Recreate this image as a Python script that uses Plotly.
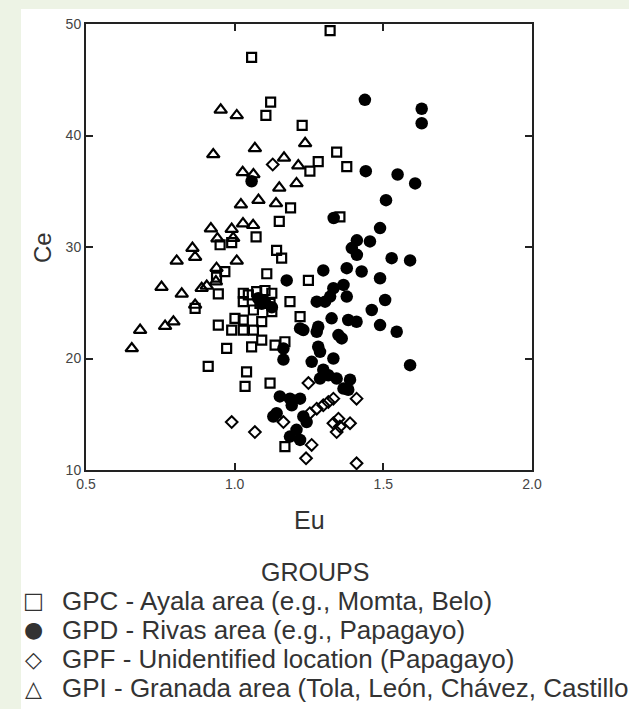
import plotly.graph_objects as go

# GPC - squares
gpc_eu = [1.057, 1.121, 1.105, 1.227, 1.343, 1.281, 1.253, 1.377, 1.321, 1.354,
          1.188, 1.150, 1.072, 0.951, 1.141, 1.158, 0.967, 0.939, 1.108, 1.248,
          0.945, 1.029, 1.046, 1.074, 1.102, 1.125, 1.029, 1.085, 1.119, 1.063,
          1.125, 1.001, 1.029, 1.091, 1.186, 1.220, 1.029, 1.063, 0.990, 0.945,
          1.091, 1.136, 1.169, 1.057, 0.973, 0.911, 1.040, 1.035, 1.119, 1.169,
          0.867, 0.990]
gpc_ce = [47.0, 43.0, 41.8, 40.9, 38.5, 37.65, 36.8, 37.2, 49.4, 32.7,
          33.5, 32.3, 30.9, 30.2, 29.7, 29.0, 27.8, 27.3, 27.6, 27.0,
          25.8, 25.85, 25.7, 26.0, 26.1, 25.85, 25.1, 24.95, 24.95, 24.35,
          24.2, 23.6, 23.45, 23.3, 25.1, 23.75, 22.55, 22.55, 22.55, 23.0,
          21.65, 21.2, 21.5, 21.05, 20.9, 19.3, 18.8, 17.5, 17.8, 12.1,
          24.5, 30.4]

# GPD - filled circles
gpd_eu = [1.438, 1.629, 1.629, 1.441, 1.548, 1.607, 1.057, 1.509, 1.333, 1.489,
          1.411, 1.455, 1.394, 1.411, 1.528, 1.590, 1.298, 1.377, 1.427, 1.489,
          1.175, 1.332, 1.366, 1.377, 1.276, 1.304, 1.321, 1.506, 1.461, 1.326,
          1.382, 1.410, 1.489, 1.545, 1.231, 1.281, 1.349, 1.360, 1.281, 1.332,
          1.259, 1.298, 1.315, 1.343, 1.388, 1.366, 1.382, 1.287, 1.590, 1.164,
          1.164, 1.220, 1.079, 1.091, 1.152, 1.186, 1.220, 1.192, 1.141, 1.130,
          1.231, 1.242, 1.208, 1.220, 1.186, 1.287, 1.276, 1.102, 1.125]
gpd_ce = [43.2, 42.4, 41.1, 36.8, 36.5, 35.7, 35.9, 34.2, 32.6, 31.7,
          30.6, 30.5, 29.9, 29.3, 29.0, 28.8, 27.9, 28.1, 27.8, 27.2,
          27.0, 26.3, 26.6, 25.55, 25.1, 25.1, 25.55, 25.25, 24.35, 23.6,
          23.45, 23.3, 23.0, 22.4, 22.55, 22.85, 22.1, 21.8, 21.05, 20.0,
          19.7, 19.0, 18.5, 18.2, 18.1, 17.3, 17.2, 18.2, 19.4, 20.9,
          19.9, 22.7, 25.4, 24.9, 16.6, 16.4, 16.4, 15.8, 15.1, 14.8,
          14.8, 14.3, 13.6, 12.7, 13.0, 20.6, 22.4, 25.1, 24.6]

# GPF - open diamonds
gpf_eu = [1.128, 0.990, 1.068, 1.240, 1.248, 1.164, 1.253, 1.276, 1.298, 1.315,
          1.332, 1.349, 1.332, 1.354, 1.343, 1.388, 1.259, 1.410, 1.410]
gpf_ce = [37.4, 14.3, 13.4, 11.05, 17.8, 14.3, 15.1, 15.5, 15.8, 16.1,
          16.4, 14.6, 14.2, 13.9, 13.4, 14.2, 12.25, 10.6, 16.4]

# GPI - open triangles
gpi_eu = [0.953, 1.007, 1.237, 0.928, 1.068, 1.166, 1.214, 1.027, 1.063, 1.208,
          1.150, 1.021, 1.080, 1.139, 0.920, 0.990, 1.028, 1.062, 0.995, 0.942,
          0.858, 0.867, 0.805, 1.007, 0.939, 0.754, 0.822, 0.889, 0.906, 0.937,
          0.867, 0.682, 0.654, 0.766, 0.794]
gpi_ce = [42.3, 41.8, 39.3, 38.3, 38.85, 38.0, 37.3, 36.7, 36.5, 35.7,
          35.3, 33.8, 34.2, 33.9, 31.65, 31.6, 32.1, 31.95, 30.8, 30.75,
          29.9, 29.1, 28.75, 28.75, 28.1, 26.4, 25.8, 26.3, 26.5, 26.9,
          24.8, 22.55, 20.9, 22.9, 23.3]

group_names = ["GPC - Ayala area (e.g., Momta, Belo)",
               "GPD - Rivas area (e.g., Papagayo)",
               "GPF - Unidentified location (Papagayo)",
               "GPI - Granada area (Tola, León, Chávez, Castillo"]
group_glyphs = ["□", "●", "◇", "△"]
legend_title = "GROUPS"

x_ticks = [0.5, 1.0, 1.5, 2.0]
y_ticks = [10, 20, 30, 40, 50]

FONT = "Liberation Sans, Arial, sans-serif"
TXT = "#333333"

fig = go.Figure()
fig.add_trace(go.Scatter(x=gpc_eu, y=gpc_ce, mode="markers", name=group_names[0],
                         marker=dict(symbol="square-open", size=9, color="black",
                                     line=dict(width=2.2, color="black"))))
fig.add_trace(go.Scatter(x=gpd_eu, y=gpd_ce, mode="markers", name=group_names[1],
                         marker=dict(symbol="circle", size=12.5, color="black",
                                     line=dict(width=0))))
fig.add_trace(go.Scatter(x=gpf_eu, y=gpf_ce, mode="markers", name=group_names[2],
                         marker=dict(symbol="diamond-open", size=9, color="black",
                                     line=dict(width=2, color="black"))))
fig.add_trace(go.Scatter(x=gpi_eu, y=gpi_ce, mode="markers", name=group_names[3],
                         marker=dict(symbol="triangle-up-open", size=11, color="black",
                                     line=dict(width=2.2, color="black"))))

# white panel over the green page border
fig.add_shape(type="rect", xref="paper", yref="paper",
              x0=-0.1457, x1=1.25, y0=-0.6, y1=1.0336,
              fillcolor="white", line=dict(width=0), layer="below")

annotations = [
    dict(text="Eu", x=0.5, y=-0.112, xanchor="center", yanchor="middle",
         font=dict(size=25, family=FONT, color=TXT)),
    dict(text="Ce", x=-0.0987, y=0.5, xanchor="center", yanchor="middle",
         textangle=-90, font=dict(size=24, family=FONT, color=TXT)),
    dict(text=legend_title, x=0.5135, y=-0.2287, xanchor="center", yanchor="middle",
         font=dict(size=25, family=FONT, color=TXT)),
]
row_y = [-0.2937, -0.3587, -0.4238, -0.4888]
for glyph, name, yy in zip(group_glyphs, group_names, row_y):
    annotations.append(dict(text=glyph, x=-0.1166, y=yy, xanchor="center",
                            yanchor="middle",
                            font=dict(size=22, family="DejaVu Sans", color=TXT)))
    annotations.append(dict(text=name, x=-0.0583, y=yy, xanchor="left",
                            yanchor="middle",
                            font=dict(size=26, family=FONT, color=TXT)))
for a in annotations:
    a.update(xref="paper", yref="paper", showarrow=False)

fig.update_layout(
    width=629, height=709,
    margin=dict(l=86, r=97, t=24, b=239),
    paper_bgcolor="#edf3e5", plot_bgcolor="white",
    font=dict(family=FONT, color=TXT),
    showlegend=False,
    annotations=annotations,
)
fig.update_xaxes(range=[0.5, 2.0], tickvals=x_ticks, tickformat=".1f",
                 showgrid=False, zeroline=False, showline=True, linecolor="#222",
                 linewidth=2, mirror="ticks", ticks="inside", ticklen=7,
                 tickwidth=2, tickcolor="#222", tickfont=dict(size=14, color="#444"))
fig.update_yaxes(range=[10, 50], tickvals=y_ticks,
                 showgrid=False, zeroline=False, showline=True, linecolor="#222",
                 linewidth=2, mirror="ticks", ticks="inside", ticklen=7,
                 tickwidth=2, tickcolor="#222", tickfont=dict(size=14, color="#444"))

fig.write_html("out.html", config={"displayModeBar": False},
               post_script="document.body.style.margin='0';document.body.style.padding='0';")
